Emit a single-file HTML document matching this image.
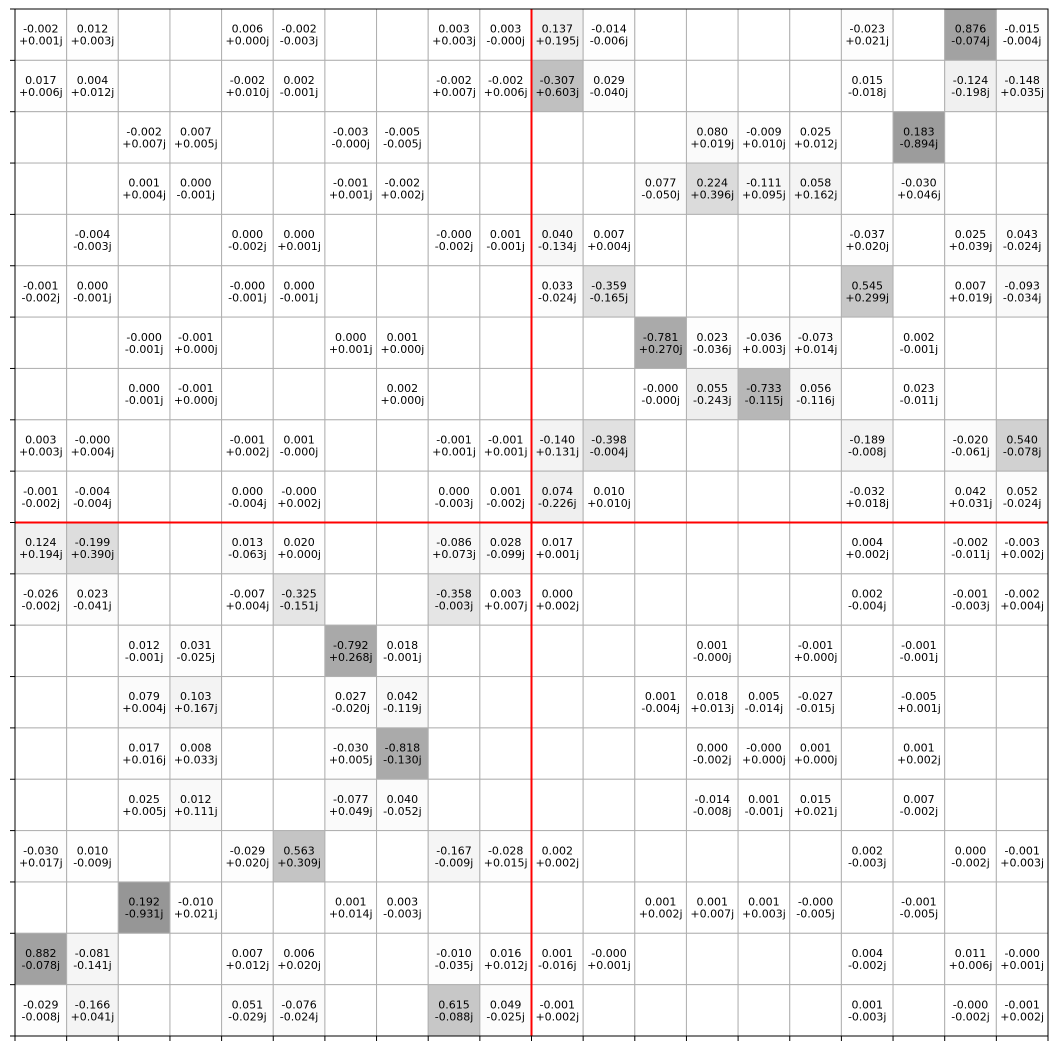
<!DOCTYPE html>
<html><head><meta charset="utf-8"><style>
body{margin:0;background:#fff;}
svg{display:block;font-family:"DejaVu Sans","Liberation Sans",sans-serif;}
</style></head><body>
<svg id="chart" width="1058" height="1051" xmlns="http://www.w3.org/2000/svg"></svg>
<script>
const rows = [
["-0.002+0.001j","0.012+0.003j","","","0.006+0.000j","-0.002-0.003j","","","0.003+0.003j","0.003-0.000j","0.137+0.195j","-0.014-0.006j","","","","","-0.023+0.021j","","0.876-0.074j","-0.015-0.004j"],
["0.017+0.006j","0.004+0.012j","","","-0.002+0.010j","0.002-0.001j","","","-0.002+0.007j","-0.002+0.006j","-0.307+0.603j","0.029-0.040j","","","","","0.015-0.018j","","-0.124-0.198j","-0.148+0.035j"],
["","","-0.002+0.007j","0.007+0.005j","","","-0.003-0.000j","-0.005-0.005j","","","","","","0.080+0.019j","-0.009+0.010j","0.025+0.012j","","0.183-0.894j","",""],
["","","0.001+0.004j","0.000-0.001j","","","-0.001+0.001j","-0.002+0.002j","","","","","0.077-0.050j","0.224+0.396j","-0.111+0.095j","0.058+0.162j","","-0.030+0.046j","",""],
["","-0.004-0.003j","","","0.000-0.002j","0.000+0.001j","","","-0.000-0.002j","0.001-0.001j","0.040-0.134j","0.007+0.004j","","","","","-0.037+0.020j","","0.025+0.039j","0.043-0.024j"],
["-0.001-0.002j","0.000-0.001j","","","-0.000-0.001j","0.000-0.001j","","","","","0.033-0.024j","-0.359-0.165j","","","","","0.545+0.299j","","0.007+0.019j","-0.093-0.034j"],
["","","-0.000-0.001j","-0.001+0.000j","","","0.000+0.001j","0.001+0.000j","","","","","-0.781+0.270j","0.023-0.036j","-0.036+0.003j","-0.073+0.014j","","0.002-0.001j","",""],
["","","0.000-0.001j","-0.001+0.000j","","","","0.002+0.000j","","","","","-0.000-0.000j","0.055-0.243j","-0.733-0.115j","0.056-0.116j","","0.023-0.011j","",""],
["0.003+0.003j","-0.000+0.004j","","","-0.001+0.002j","0.001-0.000j","","","-0.001+0.001j","-0.001+0.001j","-0.140+0.131j","-0.398-0.004j","","","","","-0.189-0.008j","","-0.020-0.061j","0.540-0.078j"],
["-0.001-0.002j","-0.004-0.004j","","","0.000-0.004j","-0.000+0.002j","","","0.000-0.003j","0.001-0.002j","0.074-0.226j","0.010+0.010j","","","","","-0.032+0.018j","","0.042+0.031j","0.052-0.024j"],
["0.124+0.194j","-0.199+0.390j","","","0.013-0.063j","0.020+0.000j","","","-0.086+0.073j","0.028-0.099j","0.017+0.001j","","","","","","0.004+0.002j","","-0.002-0.011j","-0.003+0.002j"],
["-0.026-0.002j","0.023-0.041j","","","-0.007+0.004j","-0.325-0.151j","","","-0.358-0.003j","0.003+0.007j","0.000+0.002j","","","","","","0.002-0.004j","","-0.001-0.003j","-0.002+0.004j"],
["","","0.012-0.001j","0.031-0.025j","","","-0.792+0.268j","0.018-0.001j","","","","","","0.001-0.000j","","-0.001+0.000j","","-0.001-0.001j","",""],
["","","0.079+0.004j","0.103+0.167j","","","0.027-0.020j","0.042-0.119j","","","","","0.001-0.004j","0.018+0.013j","0.005-0.014j","-0.027-0.015j","","-0.005+0.001j","",""],
["","","0.017+0.016j","0.008+0.033j","","","-0.030+0.005j","-0.818-0.130j","","","","","","0.000-0.002j","-0.000+0.000j","0.001+0.000j","","0.001+0.002j","",""],
["","","0.025+0.005j","0.012+0.111j","","","-0.077+0.049j","0.040-0.052j","","","","","","-0.014-0.008j","0.001-0.001j","0.015+0.021j","","0.007-0.002j","",""],
["-0.030+0.017j","0.010-0.009j","","","-0.029+0.020j","0.563+0.309j","","","-0.167-0.009j","-0.028+0.015j","0.002+0.002j","","","","","","0.002-0.003j","","0.000-0.002j","-0.001+0.003j"],
["","","0.192-0.931j","-0.010+0.021j","","","0.001+0.014j","0.003-0.003j","","","","","0.001+0.002j","0.001+0.007j","0.001+0.003j","-0.000-0.005j","","-0.001-0.005j","",""],
["0.882-0.078j","-0.081-0.141j","","","0.007+0.012j","0.006+0.020j","","","-0.010-0.035j","0.016+0.012j","0.001-0.016j","-0.000+0.001j","","","","","0.004-0.002j","","0.011+0.006j","-0.000+0.001j"],
["-0.029-0.008j","-0.166+0.041j","","","0.051-0.029j","-0.076-0.024j","","","0.615-0.088j","0.049-0.025j","-0.001+0.002j","","","","","","0.001-0.003j","","-0.000-0.002j","-0.001+0.002j"]
];
const splitRow = 10, splitCol = 10;

const svg = document.getElementById('chart');
const NS = 'http://www.w3.org/2000/svg';
const X0 = 15, X1 = 1048, Y0 = 9, Y1 = 1036;
const nR = rows.length, nC = rows[0].length;
const cw = (X1 - X0) / nC, ch = (Y1 - Y0) / nR;
const xs = c => X0 + c * cw;
const ys = r => Y0 + r * ch;
function mk(tag, attrs) { const e = document.createElementNS(NS, tag); for (const k in attrs) e.setAttribute(k, attrs[k]); svg.appendChild(e); return e; }
function parse(s) { const m = s.match(/^([+-]?[\d.]+)([+-][\d.]+)j$/); return [parseFloat(m[1]), parseFloat(m[2])]; }

for (let r = 0; r < nR; r++) {
  for (let c = 0; c < nC; c++) {
    const s = rows[r][c];
    let fill = '#ffffff';
    if (s) {
      const [re, im] = parse(s);
      const m = Math.hypot(re, im);
      const g = Math.max(0, Math.round(255 - 50.7 * m - 63 * m * m));
      fill = `rgb(${g},${g},${g})`;
    }
    const rect = mk('rect', {x: xs(c), y: ys(r), width: cw, height: ch, fill: fill, stroke: '#b0b0b0', 'stroke-width': 1});
    
    
    if (s) {
      const i = s.search(/[+-][\d.]+j$/);
      const t1 = mk('text', {x: xs(c) + cw / 2, y: ys(r) + ch / 2 - 2, 'font-size': 11, 'text-anchor': 'middle', fill: '#000'});
      t1.textContent = s.slice(0, i);
      
      
      const t2 = mk('text', {x: xs(c) + cw / 2, y: ys(r) + ch / 2 + 10, 'font-size': 11, 'text-anchor': 'middle', fill: '#000'});
      t2.textContent = s.slice(i);
      
      
    }
  }
}
const vl = mk('line', {x1: xs(splitCol), x2: xs(splitCol), y1: Y0, y2: Y1, stroke: '#ff0000', 'stroke-width': 2});


const hl = mk('line', {x1: X0, x2: X1, y1: ys(splitRow), y2: ys(splitRow), stroke: '#ff0000', 'stroke-width': 2});


const frame = mk('rect', {x: X0, y: Y0, width: X1 - X0, height: Y1 - Y0, fill: 'none', stroke: '#000', 'stroke-width': 1});


for (let r = 0; r <= nR; r++) {
  const t = mk('line', {x1: X0 - 5, x2: X0, y1: ys(r), y2: ys(r), stroke: '#000', 'stroke-width': 1});
  
  
}
for (let c = 0; c <= nC; c++) {
  const t = mk('line', {x1: xs(c), x2: xs(c), y1: Y1, y2: Y1 + 5, stroke: '#000', 'stroke-width': 1});
  
  
}
</script>
</body></html>
